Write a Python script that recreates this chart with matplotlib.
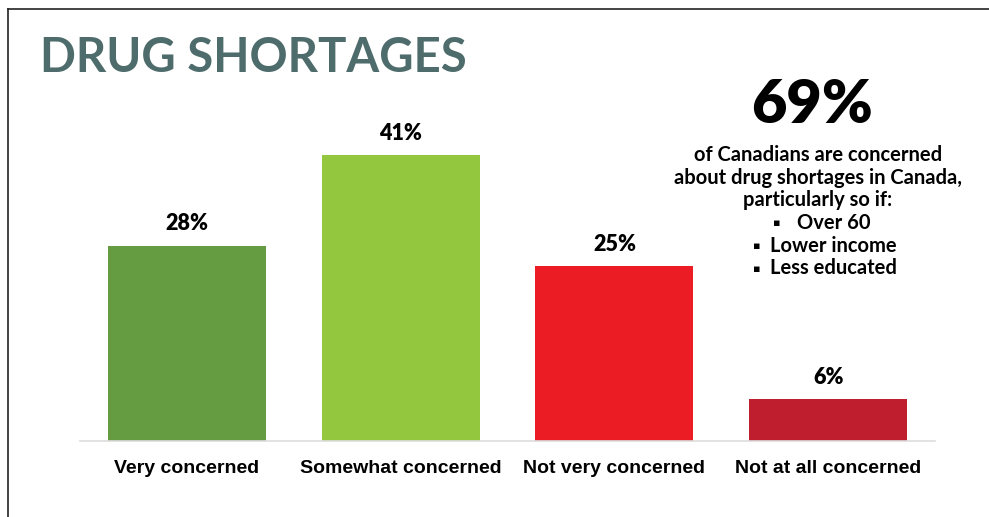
import matplotlib
matplotlib.use("Agg")
import matplotlib.pyplot as plt
from matplotlib.lines import Line2D

categories = ["Very concerned", "Somewhat concerned", "Not very concerned", "Not at all concerned"]
values = [28, 41, 25, 6]
colors = ["#659b41", "#93c83e", "#ec1c24", "#be1e2d"]
title = "DRUG SHORTAGES"
headline = "69%"
note_lines = ["of Canadians are concerned", "about drug shortages in Canada,", "particularly so if:"]
bullets = ["Over 60", "Lower income", "Less educated"]

W, H = 989, 517
fig = plt.figure(figsize=(W / 100, H / 100), dpi=100)
fig.patch.set_facecolor("white")

ax = fig.add_axes([80 / W, 76 / H, 855 / W, 341 / H])
x = list(range(len(categories)))
ax.bar(x, values, width=0.74, color=colors)
ax.set_xlim(-0.5, 3.5)
ax.set_ylim(0, 48.85)
for s in ["top", "right", "left"]:
    ax.spines[s].set_visible(False)
ax.spines["bottom"].set_color("#dddddd")
ax.spines["bottom"].set_linewidth(1.2)
ax.set_yticks([])
ax.set_xticks(x)
ax.set_xticklabels(categories, fontsize=14, fontweight="bold", family="Liberation Sans")
ax.tick_params(axis="x", length=0, pad=14)
for xi, v in zip(x, values):
    ax.annotate(f"{v}%", (xi, v), xytext=(0, 8), textcoords="offset points",
                ha="center", va="bottom", fontsize=15.5, fontweight="heavy",
                family=["Lato", "DejaVu Sans"])

fig.text(40 / W, 1 - 58 / H, title, fontsize=34, fontweight="bold",
         family="Lato", color="#4f6c6c", ha="left", va="center")
fig.text(812 / W, 1 - 105 / H, headline, fontsize=44, fontweight="heavy",
         family="Lato", color="black", ha="center", va="center")
y0 = 155
step = 22.7
fs = 14.5
for i, line in enumerate(note_lines):
    fig.text(818 / W, 1 - (y0 + i * step) / H, line, fontsize=fs, fontweight="bold",
             family=["Lato", "DejaVu Sans"], ha="center", va="center")
bullet_x = [777, 757, 757]
for j, b in enumerate(bullets):
    yy = 1 - (y0 + (3 + j) * step) / H
    fig.text(bullet_x[j] / W, yy, "\u25aa", fontsize=8, family="DejaVu Sans",
             ha="center", va="center")
    fig.text((bullet_x[j] + (20 if j == 0 else 13)) / W, yy, b, fontsize=fs,
             fontweight="bold", family=["Lato", "DejaVu Sans"], ha="left", va="center")

fig.add_artist(Line2D([8 / W, 1], [1 - 9 / H, 1 - 9 / H], color="#222222", lw=1.2,
                      transform=fig.transFigure))
fig.add_artist(Line2D([8 / W, 8 / W], [0, 1 - 9 / H], color="#222222", lw=1.2,
                      transform=fig.transFigure))

fig.savefig("out.png", dpi=100)
